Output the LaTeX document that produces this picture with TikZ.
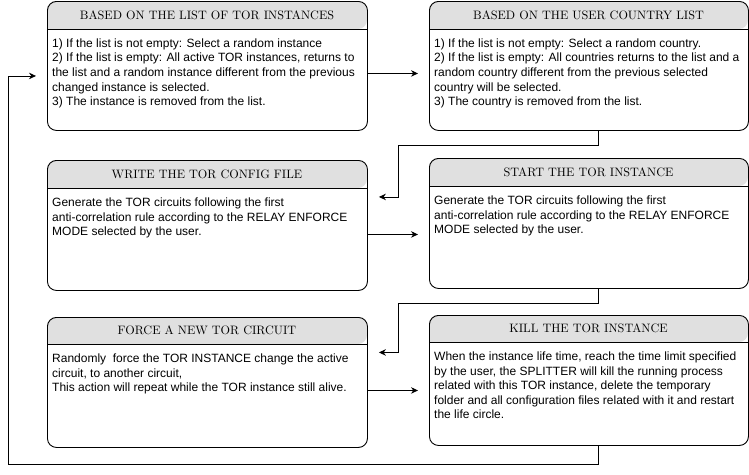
\documentclass[tikz,border=0pt]{standalone}
\usepackage{fontspec}
\newfontfamily\bodyfont{Liberation Sans}
\newfontfamily\hdrfont{lmroman10-regular.otf}
\usetikzlibrary{arrows.meta,calc}
\definecolor{hdrgray}{HTML}{E0E0E0}
\tikzset{
  boxframe/.style={draw=black,line width=0.9pt,rounded corners=9pt,inner sep=0pt},
  hdrfill/.style={fill=hdrgray},
  hdrtext/.style={font=\hdrfont\fontsize{12.2}{13}\selectfont,inner sep=0pt,anchor=center},
  bodytext/.style={font=\bodyfont\fontsize{12}{14.6}\selectfont,align=left,inner sep=0pt,anchor=north west},
  arr/.style={draw=black,line width=0.9pt,-{Stealth[length=7pt,width=6.5pt]}},
}
% #1 name, #2 x1, #3 y1, #4 x2, #5 y2, #6 header bottom, #7 title, #8 body
\newcommand{\torbox}[8]{%
  \fill[hdrfill,rounded corners=9pt] (#2,#6) -- (#2,#3) -- (#4,#3) -- (#4,#6) [sharp corners] -- cycle;
  \draw[line width=0.9pt] (#2,#6) -- (#4,#6);
  \node[boxframe,minimum width=#4pt-#2pt,minimum height=#5pt-#3pt,anchor=north west] (#1) at (#2,#3) {};
  \node[hdrtext] (#1h) at ({(#2+#4)/2},{(#3+#6)/2}) {#7};
  \node[bodytext] (#1t) at (#2+5,#6+9.5) {#8};
}
\begin{document}
\begin{tikzpicture}[x=1pt,y=-1pt]
\useasboundingbox (0,0) rectangle (749,474);
\torbox{b1}{47}{1}{367}{130}{29}{BASED ON THE LIST OF TOR INSTANCES}{1) If the list is not empty: Select a random instance\\2) If the list is empty: All active TOR instances, returns to\\the list and a random instance different from the previous\\changed instance is selected.\\3) The instance is removed from the list.}
\torbox{b2}{429}{1}{748}{130}{29}{BASED ON THE USER COUNTRY LIST}{1) If the list is not empty: Select a random country.\\2) If the list is empty: All countries returns to the list and a\\random country different from the previous selected\\country will be selected.\\3) The country is removed from the list.}
\torbox{b3}{47}{160}{367}{290}{188}{WRITE THE TOR CONFIG FILE}{Generate the TOR circuits following the first\\anti-correlation rule according to the RELAY ENFORCE\\MODE selected by the user.}
\torbox{b4}{429}{158}{748}{288}{186}{START THE TOR INSTANCE}{Generate the TOR circuits following the first\\anti-correlation rule according to the RELAY ENFORCE\\MODE selected by the user.}
\torbox{b5}{47}{317}{367}{447}{344}{FORCE A NEW TOR CIRCUIT}{Randomly\ \ force the TOR INSTANCE change the active\\circuit, to another circuit,\\This action will repeat while the TOR instance still alive.}
\torbox{b6}{429}{315}{748}{445}{342}{KILL THE TOR INSTANCE}{When the instance life time, reach the time limit specified\\by the user, the SPLITTER will kill the running process\\related with this TOR instance, delete the temporary\\folder and all configuration files related with it and restart\\the life circle.}
% connectors
\coordinate (a1) at ([yshift=-7.5pt]b1.east);
\coordinate (a2) at ([yshift=-9pt]b3.east);
\coordinate (a3) at ([yshift=-8pt]b5.east);
\draw[arr] (a1) -- ([xshift=-11pt]b2.west |- a1);
\draw[arr] (a2) -- ([xshift=-11pt]b4.west |- a2);
\draw[arr] (a3) -- ([xshift=-11pt]b6.west |- a3);
\coordinate (c1) at (398,145);
\coordinate (c2) at (398,303);
\coordinate (c3) at (8,464);
\draw[arr] ([xshift=9.5pt]b2.south) |- (c1) |- ([xshift=11pt,yshift=28.5pt]b3.east);
\draw[arr] ([xshift=9.5pt]b4.south) |- (c2) |- ([xshift=11pt,yshift=30pt]b5.east);
\draw[arr] ([xshift=9.5pt]b6.south) |- (c3) |- ([xshift=-11pt,yshift=-10pt]b1.west);
\end{tikzpicture}
\end{document}
